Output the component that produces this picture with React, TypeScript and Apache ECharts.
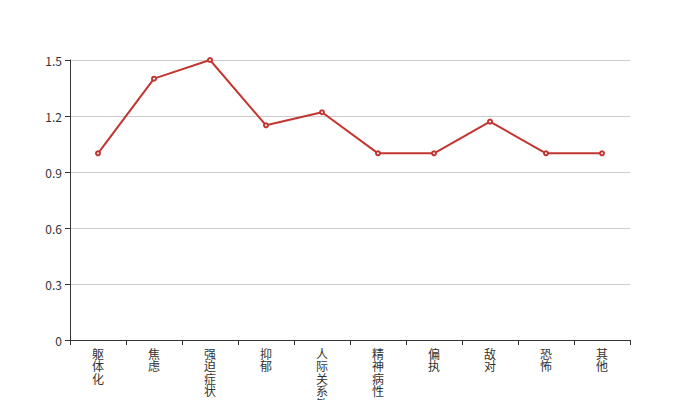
import React, { useEffect, useRef } from "react";
import * as echarts from "echarts";

const categories = ["躯体化", "焦虑", "强迫症状", "抑郁", "人际关系敏感", "精神病性", "偏执", "敌对", "恐怖", "其他"];
const values = [1.0, 1.4, 1.5, 1.15, 1.22, 1.0, 1.0, 1.17, 1.0, 1.0];

export default function App() {
  const ref = useRef<HTMLDivElement>(null);
  useEffect(() => {
    const chart = echarts.init(ref.current!, undefined, { renderer: "svg" });
    chart.setOption({
      animation: false,
      grid: { left: 70, right: 70, top: 60, bottom: 60, containLabel: false, outerBoundsMode: "none" },
      xAxis: {
        type: "category",
        data: categories,
        boundaryGap: true,
        axisLine: { lineStyle: { color: "#333" } },
        axisTick: { show: true, length: 5, lineStyle: { color: "#333" } },
        axisLabel: {
          color: "#333",
          fontSize: 12,
          lineHeight: 12.5,
          fontFamily: "Noto Sans CJK SC",
          interval: 0,
          margin: 7,
          formatter: (v: string) => v.split("").join("\n"),
        },
      },
      yAxis: {
        type: "value",
        min: 0,
        max: 1.5,
        interval: 0.3,
        axisLine: { show: true, lineStyle: { color: "#333" } },
        axisTick: { show: true, length: 5, lineStyle: { color: "#333" } },
        axisLabel: { color: "#333", fontSize: 12, fontFamily: "Noto Sans CJK SC" },
        splitLine: { lineStyle: { color: "#ccc" } },
      },
      series: [
        {
          type: "line",
          data: values,
          symbol: "emptyCircle",
          symbolSize: 4,
          itemStyle: { color: "#c23531" },
          lineStyle: { color: "#c23531", width: 2 },
        },
      ],
    });
    return () => chart.dispose();
  }, []);
  return <div ref={ref} style={{ position: "absolute", left: 0, top: 0, width: 700, height: 400 }} />;
}
